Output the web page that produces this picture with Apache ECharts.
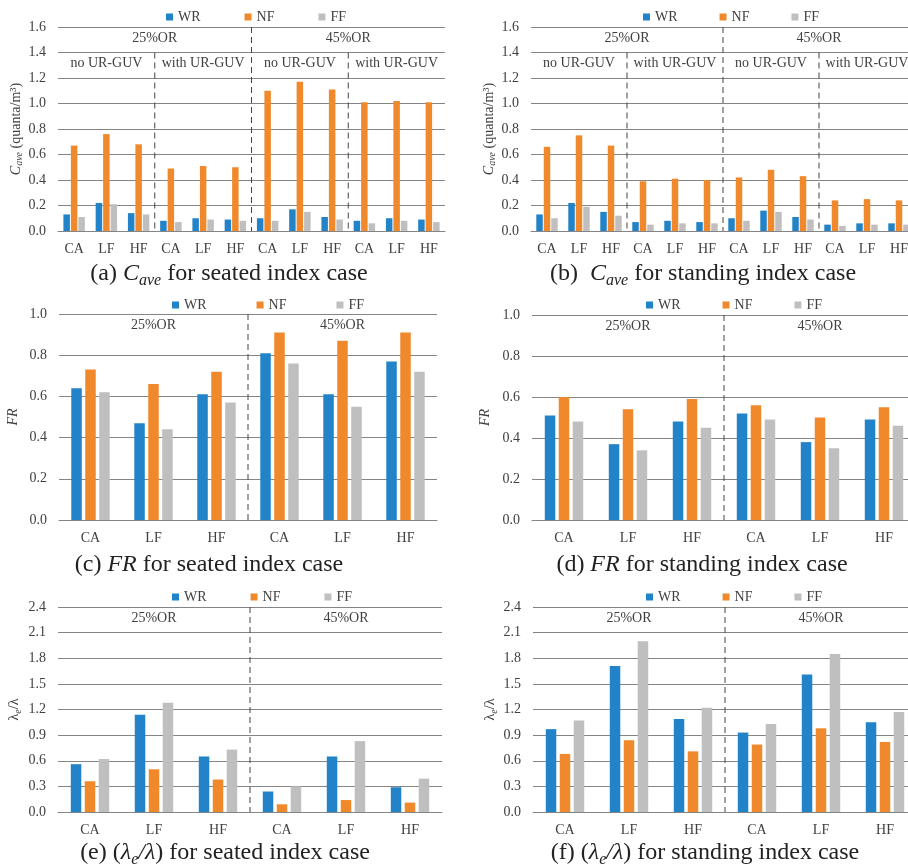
<!DOCTYPE html>
<html><head><meta charset="utf-8">
<script src="https://cdn.jsdelivr.net/npm/echarts@6/dist/echarts.min.js"></script>
<style>html,body{margin:0;padding:0;background:#fff;overflow:hidden}#c{width:930px;height:867px}</style>
</head><body><div id="c"></div>
<script>
// ---------- data ----------
const seriesNames = ['WR', 'NF', 'FF'];
const catsCave = ['CA','LF','HF','CA','LF','HF','CA','LF','HF','CA','LF','HF'];
const cats6 = ['CA','LF','HF','CA','LF','HF'];
const orLabels = ['25%OR', '45%OR'];
const guvLabels = ['no UR-GUV', 'with UR-GUV', 'no UR-GUV', 'with UR-GUV'];

const caveSeatedWR = [0.13,0.22,0.14,0.08,0.10,0.09,0.10,0.17,0.11,0.08,0.10,0.09];
const caveSeatedNF = [0.67,0.76,0.68,0.49,0.51,0.50,1.10,1.17,1.11,1.01,1.02,1.01];
const caveSeatedFF = [0.11,0.21,0.13,0.07,0.09,0.08,0.08,0.15,0.09,0.06,0.08,0.07];

const caveStandWR = [0.13,0.22,0.15,0.07,0.08,0.07,0.10,0.16,0.11,0.05,0.06,0.06];
const caveStandNF = [0.66,0.75,0.67,0.39,0.41,0.40,0.42,0.48,0.43,0.24,0.25,0.24];
const caveStandFF = [0.10,0.19,0.12,0.05,0.06,0.06,0.08,0.15,0.09,0.04,0.05,0.05];

const frSeatedWR = [0.64,0.47,0.61,0.81,0.61,0.77];
const frSeatedNF = [0.73,0.66,0.72,0.91,0.87,0.91];
const frSeatedFF = [0.62,0.44,0.57,0.76,0.55,0.72];

const frStandWR = [0.51,0.37,0.48,0.52,0.38,0.49];
const frStandNF = [0.60,0.54,0.59,0.56,0.50,0.55];
const frStandFF = [0.48,0.34,0.45,0.49,0.35,0.46];

const lamSeatedWR = [0.56,1.14,0.65,0.24,0.65,0.29];
const lamSeatedNF = [0.36,0.50,0.38,0.09,0.14,0.11];
const lamSeatedFF = [0.62,1.28,0.73,0.30,0.83,0.39];

const lamStandWR = [0.97,1.71,1.09,0.93,1.61,1.05];
const lamStandNF = [0.68,0.84,0.71,0.79,0.98,0.82];
const lamStandFF = [1.07,2.00,1.22,1.03,1.85,1.17];

// ---------- styles ----------
const FONT = 'Liberation Serif';
const TXT = '#404040';
const COLORS = ['#2383c8', '#f0892b', '#bfbfbf'];
const GRIDC = '#858585';

const richBase = {
  t: {fontFamily: FONT, fontSize: 24, color: '#222', lineHeight: 29},
  i: {fontFamily: FONT, fontSize: 24, color: '#222', fontStyle: 'italic', lineHeight: 29},
  sub: {fontFamily: FONT, fontSize: 16, color: '#222', fontStyle: 'italic', verticalAlign: 'bottom', lineHeight: 17}
};
const richY = {
  t: {fontFamily: FONT, fontSize: 14, color: TXT, lineHeight: 17},
  i: {fontFamily: FONT, fontSize: 14, color: TXT, fontStyle: 'italic', lineHeight: 17},
  sub: {fontFamily: FONT, fontSize: 10, color: TXT, fontStyle: 'italic', verticalAlign: 'bottom', lineHeight: 10}
};

const panels = [
  {cats: catsCave, data: [caveSeatedWR, caveSeatedNF, caveSeatedFF], max: 1.6, interval: 0.2,
   grid: {left: 58, top: 27, width: 387, height: 204}, legend: {left: 166, top: 10, gap: 44},
   barWidth: 6.5, barGap: '15%', guv: true, nameGap: 31,
   yName: '{i|C}{sub|ave}{t| (quanta/m³)}',
   title: '{t|(a) }{i|C}{sub|ave}{t| for seated index case}', tx: 229, ty: 274},
  {cats: catsCave, data: [caveStandWR, caveStandNF, caveStandFF], max: 1.6, interval: 0.2,
   grid: {left: 531, top: 27, width: 384, height: 204}, legend: {left: 643, top: 10, gap: 42},
   barWidth: 6.5, barGap: '15%', guv: true, nameGap: 29,
   yName: '{i|C}{sub|ave}{t| (quanta/m³)}',
   title: '{t|(b)  }{i|C}{sub|ave}{t| for standing index case}', tx: 703, ty: 274},
  {cats: cats6, data: [frSeatedWR, frSeatedNF, frSeatedFF], max: 1.0, interval: 0.2,
   grid: {left: 59, top: 314, width: 378, height: 206}, legend: {left: 172, top: 298, gap: 50},
   barWidth: 10.5, barGap: '33%', guv: false, nameGap: 37,
   yName: '{i|FR}',
   title: '{t|(c) }{i|FR}{t| for seated index case}', tx: 209, ty: 565},
  {cats: cats6, data: [frStandWR, frStandNF, frStandFF], max: 1.0, interval: 0.2,
   grid: {left: 532, top: 315, width: 384, height: 205}, legend: {left: 646, top: 298, gap: 42},
   barWidth: 10.5, barGap: '33%', guv: false, nameGap: 38,
   yName: '{i|FR}',
   title: '{t|(d) }{i|FR}{t| for standing index case}', tx: 702, ty: 565},
  {cats: cats6, data: [lamSeatedWR, lamSeatedNF, lamSeatedFF], max: 2.4, interval: 0.3,
   grid: {left: 58, top: 607, width: 384, height: 205}, legend: {left: 172, top: 590, gap: 44},
   barWidth: 10.5, barGap: '33%', guv: false, nameGap: 35,
   yName: '{t|λ}{sub|e}{t|/λ}',
   title: '{t|(e) (}{i|λ}{sub|e}{i|/λ}{t|) for seated index case}', tx: 225, ty: 853},
  {cats: cats6, data: [lamStandWR, lamStandNF, lamStandFF], max: 2.4, interval: 0.3,
   grid: {left: 533, top: 607, width: 384, height: 205}, legend: {left: 646, top: 590, gap: 42},
   barWidth: 10.5, barGap: '33%', guv: false, nameGap: 34,
   yName: '{t|λ}{sub|e}{t|/λ}',
   title: '{t|(f) (}{i|λ}{sub|e}{i|/λ}{t|) for standing index case}', tx: 705, ty: 853}
];

const chart = echarts.init(document.getElementById('c'), null, {renderer: 'canvas'});
const grids = [], xAxes = [], yAxes = [], series = [], legends = [];
panels.forEach((p, i) => {
  grids.push(Object.assign({containLabel: false}, p.grid));
  xAxes.push({type: 'category', gridIndex: i, data: p.cats,
    axisTick: {show: false}, axisLine: {lineStyle: {color: GRIDC, width: 1}},
    axisLabel: {fontFamily: FONT, fontSize: 14, color: TXT, margin: 11, interval: 0}});
  yAxes.push({type: 'value', gridIndex: i, min: 0, max: p.max, interval: p.interval,
    axisLine: {show: false}, axisTick: {show: false},
    splitLine: {lineStyle: {color: GRIDC, width: 1}},
    axisLabel: {fontFamily: FONT, fontSize: 14, color: TXT, margin: 12, formatter: v => v.toFixed(1)},
    name: p.yName, nameLocation: 'middle', nameGap: p.nameGap, nameRotate: 90,
    nameTextStyle: {fontFamily: FONT, fontSize: 14, color: TXT, rich: richY}});
  seriesNames.forEach((n, k) => series.push({
    type: 'bar', name: n, xAxisIndex: i, yAxisIndex: i, data: p.data[k],
    barWidth: p.barWidth, barGap: p.barGap, itemStyle: {color: COLORS[k]},
    emphasis: {disabled: true}
  }));
  legends.push({data: seriesNames, left: p.legend.left, top: p.legend.top, itemGap: p.legend.gap,
    padding: 0, itemWidth: 7, itemHeight: 7, icon: 'rect', selectedMode: false,
    textStyle: {fontFamily: FONT, fontSize: 14, color: TXT}});
});

chart.setOption({
  animation: false,
  color: COLORS,
  grid: grids, xAxis: xAxes, yAxis: yAxes, series: series, legend: legends
});

// ---------- annotations (computed from axes) ----------
const graphics = [];
const dashStyle = {stroke: '#444', lineWidth: 1, lineDash: [6, 4]};
panels.forEach((p, i) => {
  const n = p.cats.length;
  const cx = k => chart.convertToPixel({xAxisIndex: i}, k);
  const cy = v => chart.convertToPixel({yAxisIndex: i}, v);
  const bw = cx(1) - cx(0);
  const edge = k => cx(0) - bw / 2 + k * bw;
  const yTop = cy(p.max), yBot = cy(0);
  const half = n / 2;
  graphics.push({type: 'line', silent: true, shape: {x1: edge(half), y1: yTop, x2: edge(half), y2: yBot}, style: dashStyle});
  const orY = p.guv ? cy(1.5) - 1 : yTop + 11;
  orLabels.forEach((lab, j) => {
    graphics.push({type: 'text', silent: true, x: (edge(j * half) + edge((j + 1) * half)) / 2, y: orY,
      style: {text: lab, fontFamily: FONT, fontSize: 14, fill: TXT, align: 'center', verticalAlign: 'middle'}});
  });
  if (p.guv) {
    const q = n / 4;
    [1, 3].forEach(m => {
      graphics.push({type: 'line', silent: true, shape: {x1: edge(m * q), y1: cy(1.4), x2: edge(m * q), y2: yBot}, style: dashStyle});
    });
    guvLabels.forEach((lab, j) => {
      graphics.push({type: 'text', silent: true, x: (edge(j * q) + edge((j + 1) * q)) / 2, y: cy(1.3) - 2,
        style: {text: lab, fontFamily: FONT, fontSize: 14, fill: TXT, align: 'center', verticalAlign: 'middle'}});
    });
  }
  graphics.push({type: 'text', silent: true, x: p.tx, y: p.ty,
    style: {text: p.title, rich: richBase, fontFamily: FONT, fontSize: 24, fill: '#222', align: 'center', verticalAlign: 'middle'}});
});
chart.setOption({graphic: graphics});
</script>
</body></html>
